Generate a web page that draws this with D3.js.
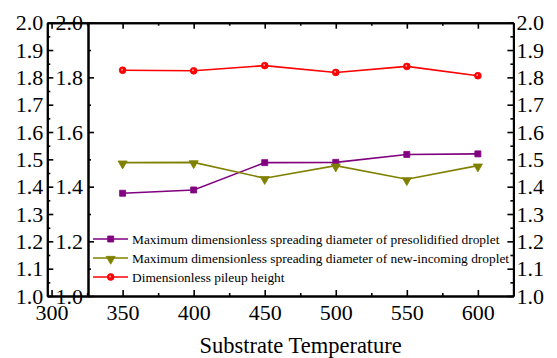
<!doctype html>
<html lang="en">
<head>
  <meta charset="utf-8">
  <title>Substrate Temperature</title>
  <script src="https://cdn.jsdelivr.net/npm/d3@7"></script>
  <style>
    body { margin: 0; background: #fff; }
    .axis .domain { stroke: #000; stroke-width: 2; }
    .axis line { stroke: #000; stroke-width: 1.6; }
  </style>
</head>
<body>
  <div id="chart"></div>
  <script>
    // data
    const temps = [350, 400, 450, 500, 550, 600];
    const presolidified = [1.376, 1.388, 1.488, 1.489, 1.518, 1.520];
    const newIncoming = [1.488, 1.489, 1.431, 1.477, 1.427, 1.477];
    const pileupHeight = [1.826, 1.824, 1.843, 1.818, 1.840, 1.806];

    const seriesNames = [
      'Maximum dimensionless spreading diameter of presolidified droplet',
      'Maximum dimensionless spreading diameter of new-incoming droplet',
      'Dimensionless pileup height'
    ];
    const seriesColors = ['#800080', '#808000', '#ff0000'];
    const seriesSymbols = [d3.symbolSquare, d3.symbolTriangle, d3.symbolCircle];

    const xMajor = [300, 350, 400, 450, 500, 550, 600];
    const xMinor = [325, 375, 425, 475, 525, 575];

    const serif = "'Liberation Serif', 'Times New Roman', Times, serif";
    const width = 557, height = 358;
    const outerLeft = 47.3, innerLeft = 88, plotRight = 513.4, plotTop = 22.7, plotBottom = 296;

    const svg = d3.select('#chart').append('svg')
      .attr('width', width)
      .attr('height', height)
      .attr('font-family', serif)
      .style('display', 'block');

    const x = d3.scaleLinear().domain([297, 625]).range([outerLeft, plotRight]);
    const y = d3.scaleLinear().domain([1, 2]).range([plotBottom, plotTop]);

    const fmt = d3.format('.1f');
    const yAll = d3.range(10, 21).map(d => d / 10);
    const yHalf = d3.range(21).map(d => 1 + d * 0.05).filter(d => Math.round(d * 100) % 10 !== 0);
    const yEven = d3.range(0, 11, 2).map(d => 1 + d / 10);
    const yOdd = d3.range(1, 10, 2).map(d => 1 + d / 10);

    // helper: draw one axis and put our font back on it
    function addAxis(axis, tx, ty) {
      const g = svg.append('g')
        .attr('class', 'axis')
        .attr('transform', `translate(${tx},${ty})`)
        .call(axis);
      g.attr('font-family', serif).attr('font-size', 22);
      g.selectAll('text').attr('fill', '#000').attr('font-family', serif);
      return g;
    }

    // minor ticks first, then major ticks with labels
    addAxis(d3.axisBottom(x).tickValues(xMinor).tickSize(-3).tickFormat('').tickSizeOuter(0), 0, plotBottom);
    addAxis(d3.axisTop(x).tickValues(xMinor).tickSize(-3).tickFormat('').tickSizeOuter(0), 0, plotTop);
    addAxis(d3.axisBottom(x).tickValues(xMajor).tickSize(-6).tickPadding(8).tickSizeOuter(0), 0, plotBottom);
    addAxis(d3.axisTop(x).tickValues(xMajor).tickSize(-6).tickFormat('').tickSizeOuter(0), 0, plotTop);

    // outer left axis, step 0.1
    addAxis(d3.axisLeft(y).tickValues(yHalf).tickSize(-3).tickFormat('').tickSizeOuter(0), outerLeft, 0);
    addAxis(d3.axisLeft(y).tickValues(yAll).tickSize(-6).tickPadding(4).tickFormat(fmt).tickSizeOuter(0), outerLeft, 0);

    // inner left axis, step 0.2
    addAxis(d3.axisLeft(y).tickValues(yOdd).tickSize(-3).tickFormat('').tickSizeOuter(0), innerLeft, 0);
    addAxis(d3.axisLeft(y).tickValues(yEven).tickSize(-6).tickPadding(5).tickFormat(fmt).tickSizeOuter(0), innerLeft, 0);

    // right axis
    addAxis(d3.axisRight(y).tickValues(yHalf).tickSize(-3).tickFormat('').tickSizeOuter(0), plotRight, 0);
    addAxis(d3.axisRight(y).tickValues(yAll).tickSize(-6).tickPadding(3).tickFormat(fmt).tickSizeOuter(0), plotRight, 0);

    // axis title
    svg.append('text')
      .attr('x', (innerLeft + plotRight) / 2)
      .attr('y', 353)
      .attr('text-anchor', 'middle')
      .attr('font-size', 22.5)
      .text('Substrate Temperature');

    // series
    const allSeries = [presolidified, newIncoming, pileupHeight];
    const line = d3.line().x((d, i) => x(temps[i])).y(d => y(d));

    function marker(g, k, cx, cy) {
      const sym = d3.symbol().type(seriesSymbols[k]).size(36);
      g.append('path')
        .attr('d', sym())
        .attr('fill', seriesColors[k])
        .attr('stroke', seriesColors[k])
        .attr('stroke-width', 0.8)
        .attr('transform', `translate(${cx},${cy})` + (k === 1 ? ' rotate(180) translate(0,-1)' : ''));
      if (k === 2) {
        g.append('circle').attr('cx', cx - 0.6).attr('cy', cy - 0.6).attr('r', 1)
          .attr('fill', '#ff9a9a');
      }
    }

    allSeries.forEach((vals, k) => {
      const g = svg.append('g');
      g.append('path')
        .datum(vals)
        .attr('d', line)
        .attr('fill', 'none')
        .attr('stroke', seriesColors[k])
        .attr('stroke-width', 1.6);
      vals.forEach((v, i) => marker(g, k, x(temps[i]), y(v)));
    });

    // legend
    const legendRows = [239, 258, 277];
    const legend = svg.append('g').attr('font-size', 13.4);
    seriesNames.forEach((name, k) => {
      const ly = legendRows[k];
      legend.append('line')
        .attr('x1', 93).attr('x2', 128).attr('y1', ly).attr('y2', ly)
        .attr('stroke', seriesColors[k]).attr('stroke-width', 1.6);
      marker(legend, k, 110.7, ly);
      legend.append('text')
        .attr('x', 132)
        .attr('y', ly + 4.5)
        .attr('fill', '#000')
        .text(name);
    });
  </script>
</body>
</html>
